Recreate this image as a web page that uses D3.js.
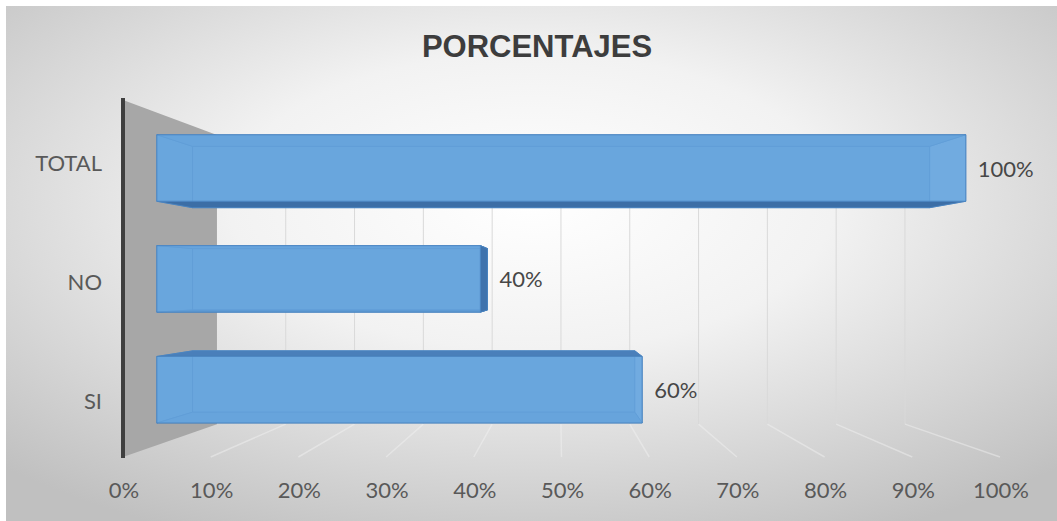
<!DOCTYPE html>
<html>
<head>
<meta charset="utf-8">
<script src="https://cdn.jsdelivr.net/npm/d3@7/dist/d3.min.js"></script>
<style>
html,body{margin:0;padding:0;background:#fff;}
svg{display:block;}
</style>
</head>
<body>
<svg id="chart" width="1057" height="521"></svg>
<script>
// ---- data ----
const title = "PORCENTAJES";
const categories = ["TOTAL", "NO", "SI"];
const values = [1.00, 0.40, 0.60];
const valueLabels = ["100%", "40%", "60%"];
const tickValues = [0, 0.1, 0.2, 0.3, 0.4, 0.5, 0.6, 0.7, 0.8, 0.9, 1.0];
const tickLabels = ["0%", "10%", "20%", "30%", "40%", "50%", "60%", "70%", "80%", "90%", "100%"];

const W = 1057, H = 521;
const svg = d3.select("#chart");
const defs = svg.append("defs");

// background gradient
const rg = defs.append("radialGradient").attr("id", "bg")
  .attr("cx", "50%").attr("cy", "38%").attr("r", "72%");
rg.append("stop").attr("offset", "0%").attr("stop-color", "#ffffff");
rg.append("stop").attr("offset", "40%").attr("stop-color", "#f2f2f2");
rg.append("stop").attr("offset", "100%").attr("stop-color", "#c0c0c0");

svg.append("rect").attr("x", 6).attr("y", 6).attr("width", W - 6).attr("height", H - 6)
  .attr("fill", "url(#bg)");

// ---- scales (front plane) ----
const x = d3.scaleLinear().domain([0, 1]).range([123, 1000]);
const y = d3.scaleBand().domain(categories).range([100, 457])
  .paddingInner(0.4).paddingOuter(0.2);
const yTop = 100, yBot = 457;

// perspective projection (z: 0 = front, 1 = back)
const xv = 559, yv = 284, kx = 0.2155, ky = 0.19;
function proj(xf, yf, z) {
  return [xv + (xf - xv) * (1 - kx * z), yv + (yf - yv) * (1 - ky * z)];
}
const line = pts => "M" + pts.map(p => p[0].toFixed(2) + "," + p[1].toFixed(2)).join("L") + "Z";

// ---- side wall ----
svg.append("path")
  .attr("d", line([proj(x(0), yTop, 0), proj(x(0), yTop, 1), proj(x(0), yBot, 1), proj(x(0), yBot, 0)]))
  .attr("fill", "#a7a7a7");

// ---- back wall and floor gridlines ----
const grid = svg.append("g");
tickValues.slice(1).forEach(t => {
  const a = proj(x(t), yTop, 1), b = proj(x(t), yBot, 1), c = proj(x(t), yBot, 0);
  grid.append("line").attr("x1", a[0]).attr("y1", a[1]).attr("x2", b[0]).attr("y2", b[1])
    .attr("stroke", "#d9d9d9").attr("stroke-width", 1);
  grid.append("line").attr("x1", b[0]).attr("y1", b[1]).attr("x2", c[0]).attr("y2", c[1])
    .attr("stroke", "#f4f4f4").attr("stroke-width", 1.5).attr("opacity", 0.45);
});

// ---- axis line ----
svg.append("line").attr("x1", x(0)).attr("x2", x(0)).attr("y1", yTop - 2).attr("y2", yBot + 1)
  .attr("stroke", "#3f3f3f").attr("stroke-width", 4);

// ---- bars ----
const z0 = 0.36, z1 = 0.74;
const bars = svg.append("g");
categories.forEach((cat, i) => {
  const v = values[i];
  const xl = x(0), xr = x(v), yt = y(cat), yb = y(cat) + y.bandwidth();
  const F = [proj(xl, yt, z0), proj(xr, yt, z0), proj(xr, yb, z0), proj(xl, yb, z0)];
  const B = [proj(xl, yt, z1), proj(xr, yt, z1), proj(xr, yb, z1), proj(xl, yb, z1)];
  const g = bars.append("g");
  const face = (pts, fill, op) => g.append("path").attr("d", line(pts))
    .attr("fill", fill).attr("fill-opacity", op)
    .attr("stroke", "#4a84c0").attr("stroke-width", 0.8).attr("stroke-linejoin", "round");
  // back face
  face(B, "#80b5e4", 1);
  // end faces
  face([F[1], B[1], B[2], F[2]], xr > xv ? "#a9d1f4" : "#3f73ad", 1);
  face([F[0], B[0], B[3], F[3]], "#80b5e4", 1);
  // top / bottom faces
  const topFront = yt > yv;   // top face visible when bar below eye level
  face([F[0], F[1], B[1], B[0]], topFront ? "#4a7fba" : "#76acde", 1);
  face([F[3], F[2], B[2], B[3]], topFront ? "#76acde" : "#3c6ea6", 1);
  if (xr < xv) face([F[1], B[1], B[2], F[2]], "#3f73ad", 1);
  // front face
  face(F, "#64a2dc", 0.82);

  // data label
  const maxX = d3.max(F.concat(B), p => p[0]);
  const cy = (F[0][1] + F[3][1]) / 2;
  svg.append("text").attr("x", maxX + 12).attr("y", cy)
    .attr("dominant-baseline", "central")
    .attr("font-family", "Lato, 'Open Sans', sans-serif").attr("font-size", 22)
    .attr("fill", "#474747").text(valueLabels[i]);
});

// ---- category labels ----
categories.forEach(cat => {
  svg.append("text").attr("x", 102).attr("y", y(cat) + y.bandwidth() / 2 + 3)
    .attr("text-anchor", "end").attr("dominant-baseline", "central")
    .attr("font-family", "Lato, 'Open Sans', sans-serif").attr("font-size", 22)
    .attr("fill", "#595959").text(cat);
});

// ---- x tick labels ----
tickValues.forEach((t, i) => {
  svg.append("text").attr("x", x(t) + 1).attr("y", 489)
    .attr("text-anchor", "middle").attr("dominant-baseline", "central")
    .attr("font-family", "Lato, 'Open Sans', sans-serif").attr("font-size", 22)
    .attr("fill", "#595959").text(tickLabels[i]);
});

// ---- title ----
svg.append("text").attr("x", 537).attr("y", 57)
  .attr("text-anchor", "middle")
  .attr("font-family", "'Liberation Sans', Arial, sans-serif").attr("font-weight", "bold")
  .attr("font-size", 31).attr("fill", "#3d3d3d").text(title);
</script>
</body>
</html>
